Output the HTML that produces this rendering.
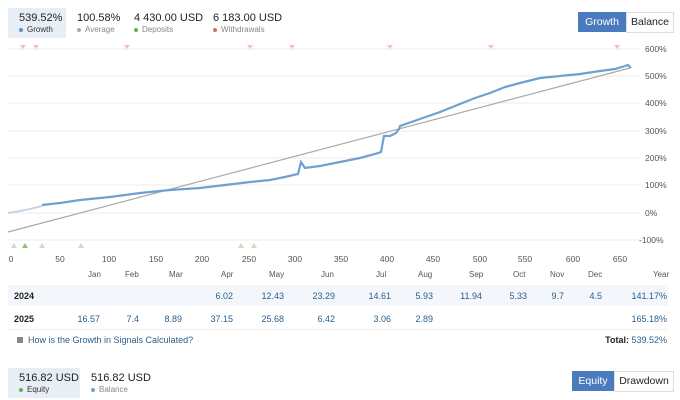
<!DOCTYPE html>
<html><head><meta charset="utf-8"><style>
body{margin:0;width:680px;height:400px;background:#fff;font-family:"Liberation Sans","DejaVu Sans",sans-serif;color:#222;position:relative;overflow:hidden}
.a{position:absolute;white-space:nowrap}
.big{font-size:11px;color:#222}
.sm{font-size:8px;color:#888}
.dot{display:inline-block;width:4px;height:4px;border-radius:50%;margin-right:4px;vertical-align:middle}
.t{font-size:8px;color:#555}
.n{font-size:9px;color:#2b5f8a;text-align:right;width:40px}
</style></head><body>
<div class="a" style="left:8px;top:8px;width:58px;height:30px;background:#e8eef5"></div>
<div class="a big" style="left:19px;top:12px">539.52%</div>
<div class="a sm" style="left:19px;top:25px;color:#333"><span class="dot" style="background:#5b8fd0"></span>Growth</div>
<div class="a big" style="left:77px;top:12px">100.58%</div>
<div class="a sm" style="left:77px;top:25px"><span class="dot" style="background:#aaa"></span>Average</div>
<div class="a big" style="left:134px;top:12px">4 430.00 USD</div>
<div class="a sm" style="left:134px;top:25px"><span class="dot" style="background:#6ab04c"></span>Deposits</div>
<div class="a big" style="left:213px;top:12px">6 183.00 USD</div>
<div class="a sm" style="left:213px;top:25px"><span class="dot" style="background:#d07060"></span>Withdrawals</div>
<div class="a" style="left:578px;top:12px;width:48px;height:20px;background:#4a7bbf;color:#fff;font-size:10.5px;line-height:20px;text-align:center">Growth</div>
<div class="a" style="left:626px;top:12px;width:46px;height:19px;border:1px solid #ddd;font-size:10.5px;line-height:19px;text-align:center">Balance</div>

<svg class="a" style="left:0;top:40px" width="680" height="230">
<g stroke="#eee" stroke-width="1">
<line x1="8" x2="640" y1="9" y2="9"/><line x1="8" x2="640" y1="36" y2="36"/><line x1="8" x2="640" y1="63" y2="63"/><line x1="8" x2="640" y1="91" y2="91"/><line x1="8" x2="640" y1="118" y2="118"/><line x1="8" x2="640" y1="145" y2="145"/><line x1="8" x2="640" y1="173" y2="173"/><line x1="8" x2="640" y1="200" y2="200"/>
</g>
<g fill="#f2c2b8"><path d="M20 5h6l-3 4z"/><path d="M33 5h6l-3 4z"/><path d="M124 5h6l-3 4z"/><path d="M247 5h6l-3 4z"/><path d="M289 5h6l-3 4z"/><path d="M387 5h6l-3 4z"/><path d="M488 5h6l-3 4z"/><path d="M614 5h6l-3 4z"/></g>
<g fill="#c9dfc0"><path d="M11 208h6l-3-5z"/><path d="M39 208h6l-3-5z"/><path d="M78 208h6l-3-5z"/><path d="M238 208h6l-3-5z"/><path d="M251 208h6l-3-5z"/></g>
<path d="M22 208h6l-3-5z" fill="#8fbf7a"/>
<line x1="8" y1="192" x2="630" y2="28" stroke="#aaa" stroke-width="1.2"/>
<polyline fill="none" stroke="#c8d4ea" stroke-width="2" points="8,173 20,171 30,169 42,166"/>
<polyline fill="none" stroke="#6ea0d0" stroke-width="2.2" points="42,165 60,163 80,160 110,157 140,153 170,150 200,148 225,145 250,142 270,140 285,137 298,134 301,122 305,128 320,126 340,122 360,118 375,114 381,112 384,96 390,96 396,93 399,89 400,86 420,79 440,72 460,64 475,58 490,53 505,47 520,43 540,38 560,36 580,34 600,31 615,29 625,26 628,25 631,28"/>
<g font-size="8.5" fill="#555" font-family="Liberation Sans,sans-serif">
<text x="645" y="12">600%</text><text x="645" y="39">500%</text><text x="645" y="66">400%</text><text x="645" y="94">300%</text><text x="645" y="121">200%</text><text x="645" y="148">100%</text><text x="645" y="176">0%</text><text x="639" y="203">-100%</text>
<g text-anchor="middle"><text x="11" y="222">0</text><text x="60" y="222">50</text><text x="109" y="222">100</text><text x="156" y="222">150</text><text x="202" y="222">200</text><text x="249" y="222">250</text><text x="295" y="222">300</text><text x="341" y="222">350</text><text x="387" y="222">400</text><text x="433" y="222">450</text><text x="480" y="222">500</text><text x="525" y="222">550</text><text x="573" y="222">600</text><text x="620" y="222">650</text></g>
</g>
</svg>

<div class="a" style="left:8px;top:285px;width:660px;height:21px;background:#f3f6fa"></div>
<div class="a" style="left:8px;top:308px;width:660px;height:21px;background:#fff;border-bottom:1px solid #f0f0f0"></div>
<div class="a t" style="left:88px;top:270px">Jan</div><div class="a t" style="left:125px;top:270px">Feb</div><div class="a t" style="left:169px;top:270px">Mar</div><div class="a t" style="left:221px;top:270px">Apr</div><div class="a t" style="left:269px;top:270px">May</div><div class="a t" style="left:321px;top:270px">Jun</div><div class="a t" style="left:376px;top:270px">Jul</div><div class="a t" style="left:418px;top:270px">Aug</div><div class="a t" style="left:469px;top:270px">Sep</div><div class="a t" style="left:513px;top:270px">Oct</div><div class="a t" style="left:550px;top:270px">Nov</div><div class="a t" style="left:588px;top:270px">Dec</div><div class="a t" style="left:653px;top:270px">Year</div>
<div class="a" style="left:14px;top:291px;font-size:9px;font-weight:bold">2024</div>
<div class="a" style="left:14px;top:314px;font-size:9px;font-weight:bold">2025</div>
<div class="a n" style="left:193px;top:291px">6.02</div><div class="a n" style="left:244px;top:291px">12.43</div><div class="a n" style="left:295px;top:291px">23.29</div><div class="a n" style="left:351px;top:291px">14.61</div><div class="a n" style="left:393px;top:291px">5.93</div><div class="a n" style="left:442px;top:291px">11.94</div><div class="a n" style="left:487px;top:291px">5.33</div><div class="a n" style="left:524px;top:291px">9.7</div><div class="a n" style="left:562px;top:291px">4.5</div><div class="a n" style="left:627px;top:291px">141.17%</div>
<div class="a n" style="left:60px;top:314px">16.57</div><div class="a n" style="left:99px;top:314px">7.4</div><div class="a n" style="left:142px;top:314px">8.89</div><div class="a n" style="left:193px;top:314px">37.15</div><div class="a n" style="left:244px;top:314px">25.68</div><div class="a n" style="left:295px;top:314px">6.42</div><div class="a n" style="left:351px;top:314px">3.06</div><div class="a n" style="left:393px;top:314px">2.89</div><div class="a n" style="left:627px;top:314px">165.18%</div>
<div class="a" style="left:17px;top:337px;width:6px;height:6px;background:#888"></div>
<div class="a" style="left:28px;top:335px;font-size:9px;color:#2b5f8a">How is the Growth in Signals Calculated?</div>
<div class="a" style="right:13px;top:335px;font-size:9px"><b>Total:</b> <span style="color:#2b5f8a">539.52%</span></div>

<div class="a" style="left:8px;top:368px;width:72px;height:30px;background:#e8eef5"></div>
<div class="a big" style="left:19px;top:372px">516.82 USD</div>
<div class="a sm" style="left:19px;top:385px;color:#333"><span class="dot" style="background:#6ab04c"></span>Equity</div>
<div class="a big" style="left:91px;top:372px">516.82 USD</div>
<div class="a sm" style="left:91px;top:385px"><span class="dot" style="background:#7a9cc8"></span>Balance</div>
<div class="a" style="left:572px;top:371px;width:42px;height:20px;background:#4a7bbf;color:#fff;font-size:10.5px;line-height:20px;text-align:center">Equity</div>
<div class="a" style="left:614px;top:371px;width:58px;height:19px;border:1px solid #ddd;font-size:10.5px;line-height:19px;text-align:center">Drawdown</div>
</body></html>
